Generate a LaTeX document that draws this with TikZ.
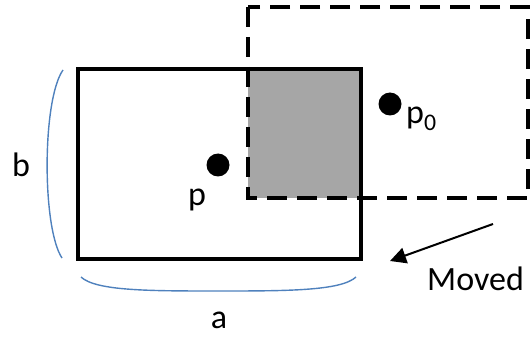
\documentclass[tikz,border=0pt]{standalone}
\usepackage{fontspec}
\setmainfont{Carlito}
\usetikzlibrary{arrows.meta}
\definecolor{braceblue}{HTML}{4F81BD}
\definecolor{overlapgray}{HTML}{A6A6A6}
\tikzset{
  solidrect/.style={draw=black, line width=3.8pt, line join=miter},
  dashedrect/.style={draw=black, line width=3.8pt, dash pattern=on 20pt off 10pt},
  brace/.style={draw=braceblue, line width=1.4pt},
  dot/.style={circle, fill=black, minimum size=23pt, inner sep=0pt},
  lbl/.style={inner sep=0pt, font=\fontsize{34}{40}\selectfont},
  movearrow/.style={draw=black, line width=2pt, -{Triangle[length=16pt,width=16pt]}}
}
\begin{document}
\begin{tikzpicture}[x=1pt,y=-1pt]
\useasboundingbox (0,0) rectangle (531,337);
% corners
\coordinate (s1) at (78,69);
\coordinate (s2) at (361,259);
\coordinate (d1) at (248,7);
\coordinate (d2) at (528,198);
% overlap
\fill[overlapgray] (248,69) rectangle (361,198);
% rectangles
\draw[dashedrect] (d1) rectangle (d2);
\draw[solidrect] (s1) rectangle (s2);
% dots
\node[dot] (p) at (218,165) {};
\node[dot] (p0) at (390,104) {};
\node[lbl, anchor=base] (pl) at (197,205) {p};
\node[lbl, anchor=base west] (p0l) at (406,124) {p\textsubscript{0}};
% braces
\coordinate (bt) at (63,70);
\coordinate (bb) at (62,258);
\draw[brace] (bt) .. controls (42,100) and (42,228) .. (bb);
\coordinate (al) at (81,277);
\coordinate (ar) at (356,277);
\draw[brace] (al) .. controls (96,291) and (150,291) .. (218,291) .. controls (286,291) and (341,291) .. (ar);
\node[lbl, anchor=base] (b) at (21,176) {b};
\node[lbl, anchor=base] (a) at (219,328) {a};
% arrow
\coordinate (mstart) at (493,224);
\coordinate (mend) at (390,261);
\draw[movearrow] (mstart) -- (mend);
\node[lbl, anchor=base west] (moved) at (427,290) {Moved};
\end{tikzpicture}
\end{document}
